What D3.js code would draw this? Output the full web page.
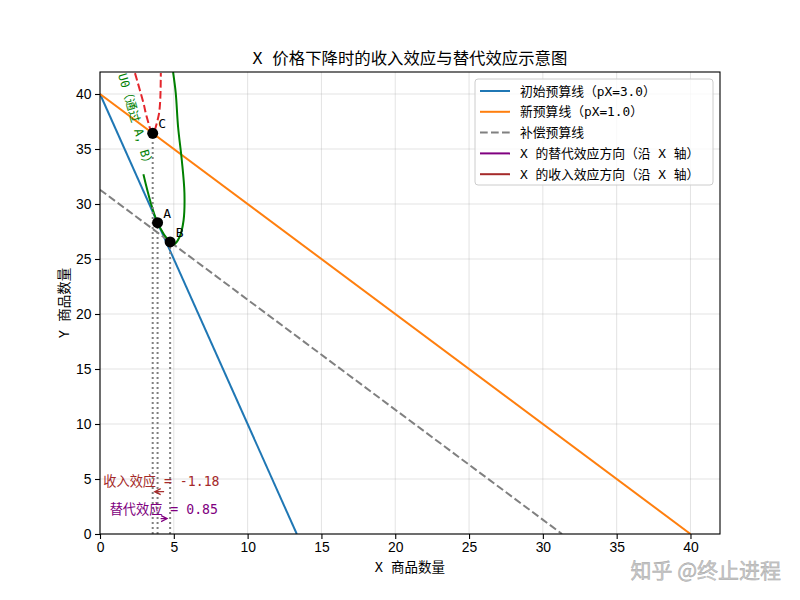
<!DOCTYPE html>
<html>
<head>
<meta charset="utf-8">
<script src="https://cdn.jsdelivr.net/npm/d3@7"></script>
<style>
  body { margin: 0; background: #fff; }
  .mono { font-family: "DejaVu Sans Mono", "Noto Sans CJK SC", sans-serif; }
  .tick text { font-family: "Liberation Sans", Arial, sans-serif; font-size: 13.9px; fill: #000; }
</style>
</head>
<body>
<svg id="chart" width="800" height="600"></svg>
<script>
// ticks
const xTicks = [0, 5, 10, 15, 20, 25, 30, 35, 40];
const yTicks = [0, 5, 10, 15, 20, 25, 30, 35, 40];

// budget lines (endpoints)
const initialBudget = [[0, 40], [13.33, 0]];
const newBudget = [[0, 40], [40, 0]];
const compBudget = [[0, 31.3], [31.3, 0]];

// bundles
const pointA = [3.9, 28.3];
const pointB = [4.75, 26.55];
const pointC = [3.57, 36.43];

// indifference curves, points
const u0Curve = [[2.94, 32.7], [3.9, 28.3], [4.75, 26.55], [5.02, 26.35], [5.39, 27.0],
  [5.66, 28.5], [5.72, 31.0], [5.54, 34.0], [5.29, 37.0], [5.13, 40.1], [4.95, 42]];
const u1Curve = [[2.37, 41.9], [2.94, 39.2], [3.17, 37.9], [3.57, 36.43],
  [3.95, 37.9], [4.07, 39.2], [4.12, 41.9]];

const subEffect = 0.85;
const incEffect = -1.18;

const legendItems = [
  { label: '初始预算线（pX=3.0）', color: '#1f77b4', dash: null },
  { label: '新预算线（pX=1.0）', color: '#ff7f0e', dash: null },
  { label: '补偿预算线', color: 'gray', dash: '7.7,3.3' },
  { label: 'X 的替代效应方向（沿 X 轴）', color: 'purple', dash: null },
  { label: 'X 的收入效应方向（沿 X 轴）', color: 'brown', dash: null }
];

const svg = d3.select('#chart');
const margin = { top: 72, right: 80, bottom: 66, left: 100 };
const width = 800 - margin.left - margin.right;
const height = 600 - margin.top - margin.bottom;

const x = d3.scaleLinear().domain([0, 42]).range([margin.left, margin.left + width]);
const y = d3.scaleLinear().domain([0, 42]).range([margin.top + height, margin.top]);

svg.append('defs').append('clipPath').attr('id', 'plot-clip')
  .append('rect')
  .attr('x', margin.left).attr('y', margin.top)
  .attr('width', width).attr('height', height);

// grid
const grid = svg.append('g').attr('stroke', '#b0b0b0').attr('stroke-opacity', 0.35).attr('stroke-width', 1);
xTicks.forEach(t => grid.append('line')
  .attr('x1', x(t)).attr('x2', x(t)).attr('y1', y(0)).attr('y2', y(42)));
yTicks.forEach(t => grid.append('line')
  .attr('x1', x(0)).attr('x2', x(42)).attr('y1', y(t)).attr('y2', y(t)));

const plot = svg.append('g').attr('clip-path', 'url(#plot-clip)');
const line = d3.line().x(d => x(d[0])).y(d => y(d[1]));

plot.append('path').datum(initialBudget).attr('d', line)
  .attr('fill', 'none').attr('stroke', '#1f77b4').attr('stroke-width', 2);
plot.append('path').datum(newBudget).attr('d', line)
  .attr('fill', 'none').attr('stroke', '#ff7f0e').attr('stroke-width', 2);
plot.append('path').datum(compBudget).attr('d', line)
  .attr('fill', 'none').attr('stroke', 'gray').attr('stroke-width', 2)
  .attr('stroke-dasharray', '7.7,3.3');

const smooth = d3.line().curve(d3.curveCatmullRom.alpha(0.5)).x(d => x(d[0])).y(d => y(d[1]));
plot.append('path').datum(u0Curve).attr('d', smooth)
  .attr('fill', 'none').attr('stroke', 'green').attr('stroke-width', 2);
plot.append('path').datum(u1Curve).attr('d', smooth)
  .attr('fill', 'none').attr('stroke', '#e4262c').attr('stroke-width', 2)
  .attr('stroke-dasharray', '7.7,3.3');

// label of U0
svg.append('text')
  .attr('class', 'mono')
  .attr('transform', `translate(${x(2.4)},${y(37.55)}) rotate(74)`)
  .attr('text-anchor', 'middle')
  .attr('dominant-baseline', 'central')
  .attr('font-size', 12)
  .attr('fill', 'green')
  .text('U0（通过 A, B）');

// vertical guides
[pointC, pointA, pointB].forEach(p => {
  plot.append('line')
    .attr('x1', x(p[0])).attr('x2', x(p[0]))
    .attr('y1', y(0)).attr('y2', y(p[1]))
    .attr('stroke', 'gray').attr('stroke-width', 2)
    .attr('stroke-dasharray', '2,3');
});

// points
const pts = [['A', pointA], ['B', pointB], ['C', pointC]];
pts.forEach(([name, p]) => {
  svg.append('circle').attr('cx', x(p[0])).attr('cy', y(p[1])).attr('r', 5.5).attr('fill', '#000');
  svg.append('text').attr('class', 'mono')
    .attr('x', x(p[0] + 0.38)).attr('y', y(p[1] + 0.45))
    .attr('font-size', 13).attr('fill', '#000').text(name);
});

// arrows
function arrowHead(id, color) {
  svg.select('defs').append('marker')
    .attr('id', id).attr('viewBox', '-8 -5 10 10')
    .attr('refX', 0).attr('refY', 0)
    .attr('markerWidth', 10).attr('markerHeight', 10)
    .attr('markerUnits', 'userSpaceOnUse')
    .attr('orient', 'auto')
    .append('path').attr('d', 'M-6,-3 L0,0 L-6,3')
    .attr('fill', 'none').attr('stroke', color).attr('stroke-width', 1.2);
}
arrowHead('head-sub', 'purple');
arrowHead('head-inc', 'brown');

const incY = 3.85, subY = 1.4;
svg.append('line')
  .attr('x1', x(pointB[0]) - 6).attr('x2', x(pointB[0] + incEffect) + 2)
  .attr('y1', y(incY)).attr('y2', y(incY))
  .attr('stroke', 'brown').attr('stroke-width', 1.2)
  .attr('marker-end', 'url(#head-inc)');
svg.append('line')
  .attr('x1', x(pointA[0]) + 3).attr('x2', x(pointA[0] + subEffect) - 3)
  .attr('y1', y(subY)).attr('y2', y(subY))
  .attr('stroke', 'purple').attr('stroke-width', 1.2)
  .attr('marker-end', 'url(#head-sub)');

svg.append('text').attr('class', 'mono')
  .attr('x', x((pointB[0] + pointC[0]) / 2)).attr('y', y(4.73))
  .attr('text-anchor', 'middle').attr('dominant-baseline', 'central')
  .attr('font-size', 13.2).attr('fill', 'brown')
  .text(`收入效应 = ${incEffect.toFixed(2)}`);
svg.append('text').attr('class', 'mono')
  .attr('x', x((pointA[0] + pointB[0]) / 2)).attr('y', y(2.27))
  .attr('text-anchor', 'middle').attr('dominant-baseline', 'central')
  .attr('font-size', 13.2).attr('fill', 'purple')
  .text(`替代效应 = ${subEffect.toFixed(2)}`);

// axes
const xAxis = svg.append('g')
  .attr('transform', `translate(0,${margin.top + height})`)
  .call(d3.axisBottom(x).tickValues(xTicks).tickSize(5).tickPadding(3.5));
const yAxis = svg.append('g')
  .attr('transform', `translate(${margin.left},0)`)
  .call(d3.axisLeft(y).tickValues(yTicks).tickSize(5).tickPadding(3.5));
[xAxis, yAxis].forEach(a => {
  a.select('.domain').remove();
  a.selectAll('.tick line').attr('stroke', '#000').attr('stroke-width', 1.1);
});

svg.append('rect')
  .attr('x', margin.left).attr('y', margin.top)
  .attr('width', width).attr('height', height)
  .attr('fill', 'none').attr('stroke', '#000').attr('stroke-width', 1.1);

// title and labels
svg.append('text').attr('class', 'mono')
  .attr('x', margin.left + width / 2).attr('y', 58)
  .attr('text-anchor', 'middle').attr('dominant-baseline', 'central')
  .attr('font-size', 16.4).attr('fill', '#000')
  .text('X 价格下降时的收入效应与替代效应示意图');
svg.append('text').attr('class', 'mono')
  .attr('x', margin.left + width / 2).attr('y', 567)
  .attr('text-anchor', 'middle').attr('dominant-baseline', 'central')
  .attr('font-size', 13.5).attr('fill', '#000')
  .text('X 商品数量');
svg.append('text').attr('class', 'mono')
  .attr('transform', `translate(64,${margin.top + height / 2}) rotate(-90)`)
  .attr('text-anchor', 'middle').attr('dominant-baseline', 'central')
  .attr('font-size', 13.5).attr('fill', '#000')
  .text('Y 商品数量');

// legend
const legend = svg.append('g');
legend.append('rect')
  .attr('x', 475).attr('y', 79).attr('width', 238).attr('height', 106).attr('rx', 3)
  .attr('fill', '#fff').attr('fill-opacity', 0.8)
  .attr('stroke', '#cccccc').attr('stroke-width', 1);
legendItems.forEach((d, i) => {
  const ly = 91 + i * 20.8;
  legend.append('line')
    .attr('x1', 480).attr('x2', 510).attr('y1', ly).attr('y2', ly)
    .attr('stroke', d.color).attr('stroke-width', 2)
    .attr('stroke-dasharray', d.dash);
  legend.append('text').attr('class', 'mono')
    .attr('x', 520).attr('y', ly)
    .attr('dominant-baseline', 'central')
    .attr('font-size', 12.8).attr('fill', '#000')
    .text(d.label);
});

// watermark
svg.append('text')
  .attr('x', 781).attr('y', 569)
  .attr('text-anchor', 'end').attr('dominant-baseline', 'central')
  .attr('font-family', '"Noto Sans CJK SC", sans-serif')
  .attr('font-size', 21).attr('fill', '#cacaca')
  .attr('stroke', '#a0a0a0').attr('stroke-width', 0.4)
  .text('知乎 @终止进程');
</script>
</body>
</html>
